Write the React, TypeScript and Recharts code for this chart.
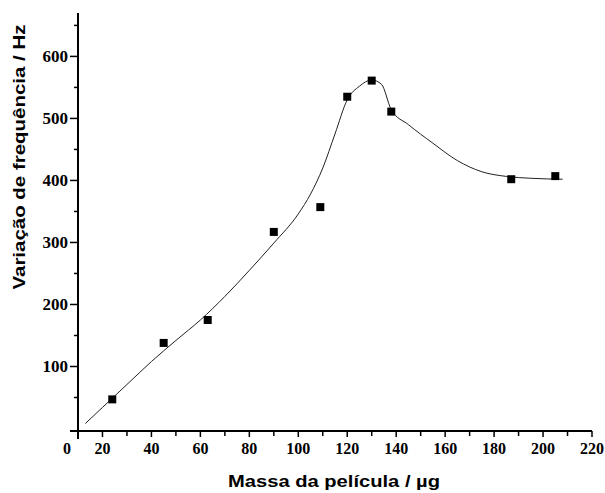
import React from "react";
import { ComposedChart, Line, Scatter, XAxis, YAxis } from "recharts";

// measured points (squares)
const measMass = [24, 45, 63, 90, 109, 120, 130, 138, 187, 205];
const measFreq = [47, 138, 175, 317, 357, 535, 561, 511, 402, 407];

// fitted curve
const fitMass = [13, 20, 30, 40, 50, 60, 70, 80, 90, 100, 105, 110, 115, 120, 125, 130, 134, 138, 145, 155, 165, 175, 185, 195, 208];
const fitFreq = [8, 34, 71, 108, 142, 175, 213, 255, 299, 346, 378, 420, 475, 530, 552, 562, 555, 514, 490, 460, 432, 414, 406.5, 403.5, 402];

const xTicks = [10, 20, 30, 40, 50, 60, 70, 80, 90, 100, 110, 120, 130, 140, 150, 160, 170, 180, 190, 200, 210, 220];
const yTicks = [-4, 50, 100, 150, 200, 250, 300, 350, 400, 450, 500, 550, 600, 650];

const points = measMass.map((x, i) => ({ x, y: measFreq[i] }));
const curve = fitMass.map((x, i) => ({ x, y: fitFreq[i] }));

const tickFont = {
  fontFamily: "'Liberation Serif', 'Times New Roman', serif",
  fontWeight: 700,
  fill: "#000",
};
const labelFont = {
  fontFamily: "'Liberation Sans', Arial, sans-serif",
  fontWeight: 700,
  fill: "#000",
};

const YTick = (props: any) => {
  const { x, y, payload } = props;
  const v = payload.value;
  const major = v % 100 === 0;
  const len = major || v < 0 ? 8 : 4;
  return (
    <g>
      <line x1={x} x2={x - len} y1={y} y2={y} stroke="#000" strokeWidth={v < 0 ? 2 : 1.5} />
      {major && (
        <text x={x - 10} y={y} textAnchor="end" dominantBaseline="central" fontSize={17} {...tickFont}>
          {v}
        </text>
      )}
    </g>
  );
};

const XTick = (props: any) => {
  const { x, y, payload } = props;
  const v = payload.value;
  if (v === 10) {
    return (
      <g>
        <line x1={x} x2={x} y1={y} y2={y + 8} stroke="#000" strokeWidth={2} />
        <text x={x - 11} y={y + 17} textAnchor="middle" dominantBaseline="central" fontSize={16} {...tickFont}>
          0
        </text>
      </g>
    );
  }
  const major = v % 20 === 0;
  return (
    <g>
      <line x1={x} x2={x} y1={y} y2={y + (major ? 6 : 5)} stroke="#000" strokeWidth={1.5} />
      {major && (
        <text x={x} y={y + 17} textAnchor="middle" dominantBaseline="central" fontSize={16} {...tickFont}>
          {v}
        </text>
      )}
    </g>
  );
};

const App = () => {
  return (
    <div style={{ position: "fixed", left: 0, top: 0, width: 605, height: 493, background: "#fff" }}>
      <ComposedChart width={605} height={493} margin={{ top: 13, right: 13, left: 0, bottom: 0 }}>
        <XAxis
          type="number"
          dataKey="x"
          domain={[10, 220]}
          ticks={xTicks}
          interval={0}
          height={62}
          tickSize={0}
          tickMargin={0}
          tickLine={false}
          tick={<XTick />}
          axisLine={{ stroke: "#000", strokeWidth: 2 }}
          allowDataOverflow
          label={{
            content: () => (
              <text x={228} y={487} textLength={212} lengthAdjust="spacingAndGlyphs" fontSize={17} {...labelFont}>
                Massa da película / µg
              </text>
            ),
          }}
        />
        <YAxis
          type="number"
          dataKey="y"
          domain={[-4, 670]}
          ticks={yTicks}
          interval={0}
          width={78}
          tickSize={0}
          tickMargin={0}
          tickLine={false}
          tick={<YTick />}
          axisLine={{ stroke: "#000", strokeWidth: 2 }}
          allowDataOverflow
          label={{
            content: () => (
              <text
                x={25}
                y={157}
                textAnchor="middle"
                transform="rotate(-90 25 157)"
                textLength={265}
                lengthAdjust="spacingAndGlyphs"
                fontSize={17}
                {...labelFont}
              >
                Variação de frequência / Hz
              </text>
            ),
          }}
        />
        <Line
          data={curve}
          dataKey="y"
          type="monotone"
          stroke="#222"
          strokeWidth={1}
          dot={false}
          activeDot={false}
          isAnimationActive={false}
        />
        <Scatter data={points} dataKey="y" fill="#000" shape="square" isAnimationActive={false} />
      </ComposedChart>
    </div>
  );
};

export default App;
